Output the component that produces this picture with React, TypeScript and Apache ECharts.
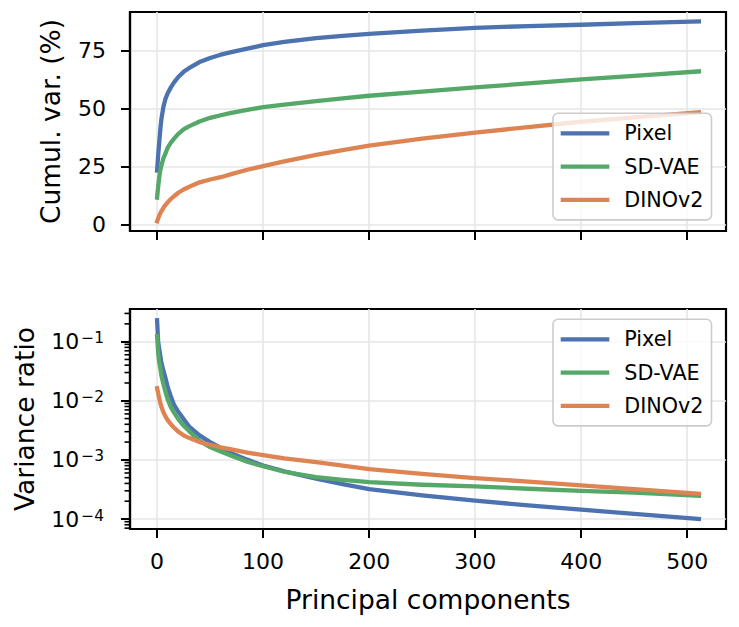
import React, { useEffect, useRef } from "react";
import * as echarts from "echarts";

// ---------- data ----------
const seriesNames = ["Pixel", "SD-VAE", "DINOv2"];
const seriesColors = ["#4C72B0", "#55A868", "#DD8452"];

// principal component index of each sampled point
const pcIndex = [0, 1, 2, 3, 4, 6, 8, 10, 13, 16, 20, 25, 30, 40, 50, 60, 70, 85, 100, 120, 150, 175, 200, 250, 300, 350, 400, 450, 511];

// cumulative explained variance (%)
const cumPixel = [23.5, 30, 35.5, 41, 45.5, 51, 54.5, 56.8, 59.3, 61.5, 63.8, 66, 67.6, 70.2, 72, 73.4, 74.5, 76, 77.5, 78.9, 80.5, 81.5, 82.4, 83.8, 85, 85.7, 86.3, 87, 87.7];
const cumSdVae = [11.8, 16.5, 20.5, 23.5, 25.5, 28.8, 31, 33.3, 35.5, 37.2, 39.3, 41.2, 42.5, 44.6, 46.2, 47.3, 48.3, 49.6, 50.8, 51.9, 53.4, 54.6, 55.7, 57.5, 59.3, 61, 62.8, 64.3, 66.2];
const cumDino = [1.6, 2.8, 4.0, 5.0, 5.9, 7.4, 8.7, 9.8, 11.2, 12.4, 13.9, 15.3, 16.4, 18.4, 19.6, 20.6, 21.9, 23.8, 25.4, 27.4, 30.2, 32.3, 34.2, 37.2, 39.8, 42.2, 44.5, 46.4, 48.6];

// explained variance ratio
const ratioPixel = [0.23, 0.1, 0.075, 0.058, 0.045, 0.032, 0.024, 0.017, 0.0118, 0.0085, 0.0065, 0.0049, 0.0037, 0.0026, 0.002, 0.0016, 0.0013, 0.00101, 0.0008, 0.00064, 0.00048, 0.00039, 0.00032, 0.00025, 0.000204, 0.00017, 0.000144, 0.000122, 0.0001];
const ratioSdVae = [0.125, 0.064, 0.045, 0.036, 0.027, 0.019, 0.014, 0.0105, 0.0078, 0.0063, 0.0049, 0.0038, 0.0031, 0.0021, 0.00165, 0.00138, 0.00118, 0.00093, 0.00078, 0.00063, 0.00051, 0.00046, 0.00042, 0.00038, 0.000356, 0.000325, 0.0003, 0.00028, 0.000248];
const ratioDino = [0.0163, 0.0135, 0.011, 0.0092, 0.008, 0.0064, 0.0054, 0.0047, 0.004, 0.0035, 0.003, 0.0026, 0.00236, 0.002, 0.0018, 0.00163, 0.0015, 0.00133, 0.0012, 0.00106, 0.00092, 0.0008, 0.0007, 0.00058, 0.00049, 0.00043, 0.00037, 0.00032, 0.000267];

// tick labels
const xTicks = [0, 100, 200, 300, 400, 500];
const cumTicks = [0, 25, 50, 75];
const ratioExponents = [-4, -3, -2, -1];

// axis limits
const xMin = -25.55;
const xMax = 536.55;
const cumMin = -2.59;
const cumMax = 91.8;
const logMin = -4.169;
const logMax = -0.448;

const FONT = "DejaVu Sans";
const GRID_COLOR = "#e6e6e6";

// minor log ticks (2..9 x 10^n) in log10 space
const minorLogTicks: number[] = [];
for (let e = -5; e <= 0; e++) {
  for (let k = 2; k <= 9; k++) {
    const v = Math.log10(k) + e;
    if (v > logMin && v < logMax) minorLogTicks.push(v);
  }
}

export default function App() {
  const ref = useRef<HTMLDivElement>(null);

  useEffect(() => {
    if (!ref.current) return;
    const chart = echarts.init(ref.current, undefined, { renderer: "svg" });

    const cumData = [cumPixel, cumSdVae, cumDino];
    const ratioData = [ratioPixel, ratioSdVae, ratioDino];

    const lineBase = (i: number) => ({
      type: "line" as const,
      name: seriesNames[i],
      showSymbol: false,
      symbol: "none",
      smooth: false,
      lineStyle: { color: seriesColors[i], width: 4.3, cap: "square" as const, join: "round" as const },
      itemStyle: { color: seriesColors[i] },
      emphasis: { disabled: true },
      z: 3,
    });

    const series: any[] = [];
    seriesNames.forEach((_, i) => {
      series.push({
        ...lineBase(i),
        xAxisIndex: 0,
        yAxisIndex: 0,
        data: pcIndex.map((x, j) => [x, cumData[i][j]]),
      });
    });
    seriesNames.forEach((_, i) => {
      series.push({
        ...lineBase(i),
        xAxisIndex: 1,
        yAxisIndex: 1,
        data: pcIndex.map((x, j) => [x, Math.log10(ratioData[i][j])]),
      });
    });

    const tickStyle = { color: "#000", width: 2 };
    const labelBase = { color: "#000", fontFamily: FONT, fontSize: 22 };

    const legendBase = (top: number) => ({
      show: true,
      orient: "vertical" as const,
      left: 553,
      top,
      data: seriesNames,
      icon: "rect",
      itemWidth: 48.6,
      itemHeight: 4.3,
      itemGap: 9.3,
      padding: [8, 8, 8, 7.7],
      backgroundColor: "rgba(255,255,255,0.8)",
      borderColor: "#cccccc",
      borderWidth: 1.6,
      borderRadius: 5,
      selectedMode: false,
      itemStyle: { borderWidth: 0 },
      textStyle: {
        color: "#000",
        fontFamily: FONT,
        fontSize: 20.7,
        lineHeight: 24,
        padding: [0, 0, 0, 10],
      },
      z: 10,
    });

    chart.setOption({
      animation: false,
      backgroundColor: "#ffffff",
      textStyle: { fontFamily: FONT },
      grid: [
        { left: 130, top: 12, width: 596, height: 219, show: true, borderColor: "#000", borderWidth: 2.2, outerBoundsMode: "none" },
        { left: 130, top: 309, width: 596, height: 220, show: true, borderColor: "#000", borderWidth: 2.2, outerBoundsMode: "none" },
      ],
      legend: [legendBase(113.3), legendBase(319.3)],
      xAxis: [
        {
          gridIndex: 0,
          type: "value",
          min: xMin,
          max: xMax,
          axisLine: { show: true, onZero: false, lineStyle: { color: "#000", width: 2.2 } },
          axisTick: { show: true, customValues: xTicks, length: 9, lineStyle: tickStyle },
          axisLabel: { show: false },
          splitLine: { show: true, lineStyle: { color: GRID_COLOR, width: 1.6 } },
        },
        {
          gridIndex: 1,
          type: "value",
          min: xMin,
          max: xMax,
          axisLine: { show: true, onZero: false, lineStyle: { color: "#000", width: 2.2 } },
          axisTick: { show: true, customValues: xTicks, length: 9, lineStyle: tickStyle },
          axisLabel: { show: true, customValues: xTicks, margin: 21, ...labelBase },
          splitLine: { show: true, lineStyle: { color: GRID_COLOR, width: 1.6 } },
          name: "Principal components",
          nameLocation: "middle",
          nameGap: 57,
          nameTextStyle: { color: "#000", fontFamily: FONT, fontSize: 26.5 },
        },
      ],
      yAxis: [
        {
          gridIndex: 0,
          type: "value",
          min: cumMin,
          max: cumMax,
          position: "left",
          axisLine: { show: true, onZero: false, lineStyle: { color: "#000", width: 2.2 } },
          axisTick: { show: true, customValues: cumTicks, length: 9, lineStyle: tickStyle },
          axisLabel: { show: true, customValues: cumTicks, margin: 24, ...labelBase },
          splitLine: { show: true, lineStyle: { color: GRID_COLOR, width: 1.6 } },
          name: "Cumul. var. (%)",
          nameLocation: "middle",
          nameGap: 66,
          nameTextStyle: { color: "#000", fontFamily: FONT, fontSize: 26.5 },
        },
        {
          gridIndex: 1,
          type: "value",
          min: logMin,
          max: logMax,
          position: "left",
          axisLine: { show: true, onZero: false, lineStyle: { color: "#000", width: 2.2 } },
          axisTick: { show: true, customValues: ratioExponents, length: 9, lineStyle: tickStyle },
          axisLabel: {
            show: true,
            customValues: ratioExponents,
            margin: 26,
            formatter: (v: number) => `{b|10}{e|\u2212${Math.round(-v)}}`,
            rich: {
              b: { color: "#000", fontFamily: FONT, fontSize: 22, lineHeight: 22, verticalAlign: "bottom" },
              e: { color: "#000", fontFamily: FONT, fontSize: 15.4, lineHeight: 14, verticalAlign: "top", padding: [0, 0, 11, 2] },
            },
          },
          splitLine: { show: true, lineStyle: { color: GRID_COLOR, width: 1.6 } },
          name: "Variance ratio",
          nameLocation: "middle",
          nameGap: 92,
          nameTextStyle: { color: "#000", fontFamily: FONT, fontSize: 26.5 },
        },
      ],
      series,
    });

    // minor ticks of the log axis: pixel positions from the bottom panel's scales
    const minorEls: any[] = [];
    minorLogTicks.forEach((v) => {
      const p = chart.convertToPixel({ seriesIndex: 3 } as any, [xMin, v]) as any;
      if (p && isFinite(p[0]) && isFinite(p[1])) {
        minorEls.push({
          type: "line",
          shape: { x1: p[0] - 5.5, y1: p[1], x2: p[0], y2: p[1] },
          style: { stroke: "#000000", lineWidth: 1.6 },
        });
      }
    });
    chart.setOption({ graphic: minorEls });

    return () => chart.dispose();
  }, []);

  return (
    <div
      ref={ref}
      style={{ position: "absolute", left: 0, top: 0, width: 739, height: 627 }}
    />
  );
}
